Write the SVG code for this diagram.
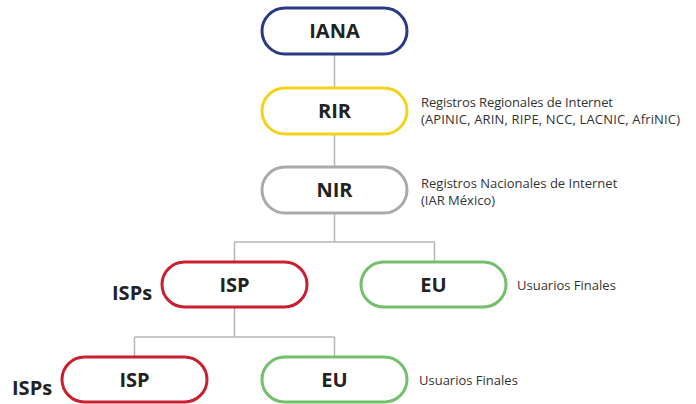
<svg xmlns="http://www.w3.org/2000/svg" width="696" height="404" viewBox="0 0 696 404">
<style>
.box{fill:#fff;stroke-width:3}
.t{font-family:"Open Sans","DejaVu Sans",sans-serif;font-weight:700;font-size:20px;fill:#222;text-anchor:middle}
.side{font-family:"Open Sans","DejaVu Sans",sans-serif;font-weight:700;font-size:20px;fill:#222}
.lbl{font-family:"Open Sans","DejaVu Sans",sans-serif;font-size:13px;fill:#333}
.ln{stroke:#b5b5b5;stroke-width:1.5;fill:none}
</style>
<rect width="696" height="404" fill="#fff"/>
<g id="connectors">
<path class="ln" d="M334.5 54V88M334.5 134V167M334.5 213V242M234.5 242H434.5M234.5 242V262M434.5 242V262M234.5 307V337M134.5 337H334.5M134.5 337V357M334.5 337V357"/>
</g>
<g id="iana">
<rect class="box" x="262" y="8" width="145" height="46" rx="23" stroke="#2b3a87"/>
<text class="t" x="334.5" y="38">IANA</text>
</g>
<g id="rir">
<rect class="box" x="262" y="88" width="145" height="46" rx="23" stroke="#f5d21a"/>
<text class="t" x="334.5" y="118">RIR</text>
<text class="lbl" x="421" y="107" textLength="192">Registros Regionales de Internet</text>
<text class="lbl" x="421" y="124" textLength="259">(APINIC, ARIN, RIPE, NCC, LACNIC, AfriNIC)</text>
</g>
<g id="nir">
<rect class="box" x="262" y="167" width="145" height="46" rx="23" stroke="#aaaaaa"/>
<text class="t" x="334.5" y="197">NIR</text>
<text class="lbl" x="421" y="188">Registros Nacionales de Internet</text>
<text class="lbl" x="421" y="205">(IAR México)</text>
</g>
<g id="isp1">
<text class="side" x="112" y="300">ISPs</text>
<rect class="box" x="162" y="262" width="145" height="45" rx="22.5" stroke="#c8202e"/>
<text class="t" x="234.5" y="292">ISP</text>
</g>
<g id="eu1">
<rect class="box" x="361" y="262" width="145" height="45" rx="22.5" stroke="#74bf6c"/>
<text class="t" x="433.5" y="292">EU</text>
<text class="lbl" x="517" y="290">Usuarios Finales</text>
</g>
<g id="isp2">
<text class="side" x="12" y="395">ISPs</text>
<rect class="box" x="62" y="357" width="145" height="45" rx="22.5" stroke="#c8202e"/>
<text class="t" x="134.5" y="387">ISP</text>
</g>
<g id="eu2">
<rect class="box" x="262" y="357" width="145" height="45" rx="22.5" stroke="#74bf6c"/>
<text class="t" x="334.5" y="387">EU</text>
<text class="lbl" x="419" y="385">Usuarios Finales</text>
</g>
</svg>
